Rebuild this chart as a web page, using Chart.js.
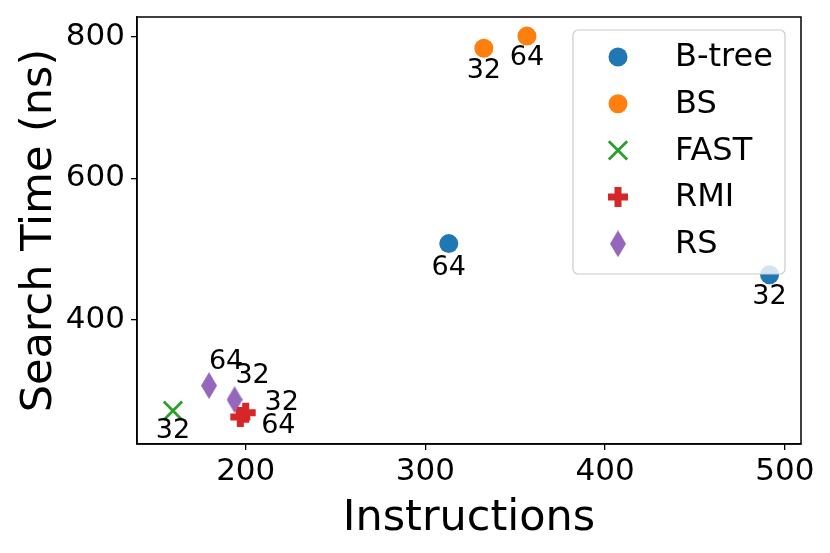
<!DOCTYPE html>
<html>
<head>
<meta charset="utf-8">
<script src="https://cdn.jsdelivr.net/npm/chart.js@4"></script>
<style>
  html, body { margin: 0; padding: 0; background: #fff; }
  canvas { display: block; }
</style>
</head>
<body>
<canvas id="c" width="830" height="553"></canvas>
<script>
// ---- Data ----
const seriesNames = ['B-tree', 'BS', 'FAST', 'RMI', 'RS'];
const btreeX = [491.5, 313];
const btreeY = [464, 508];
const btreeLabels = ['32', '64'];
const bsX = [332.5, 356.5];
const bsY = [784, 801];
const bsLabels = ['32', '64'];
const fastX = [159.5];
const fastY = [272];
const fastLabels = ['32'];
const rmiX = [200, 197];
const rmiY = [269, 263];
const rmiLabels = ['32', '64'];
const rsX = [193.8, 179.6];
const rsY = [287.5, 307.5];
const rsLabels = ['32', '64'];
const xTicks = [200, 300, 400, 500];
const yTicks = [400, 600, 800];

// ---- Styles ----
const FONT = "'DejaVu Sans', 'Liberation Sans', sans-serif";
const colors = ['#1f77b4', '#ff7f0e', '#2ca02c', '#d62728', '#9467bd'];
// label offsets (pixels) relative to each point
const labelOffsets = [
  [[0, 22], [0, 24]],
  [[0, 23], [0, 22]],
  [[0, 20]],
  [[36, -10], [38, 9]],
  [[18, -24], [17, -24]]
];

function makeDiamond(w, h, color) {
  const c = document.createElement('canvas');
  c.width = w; c.height = h;
  const g = c.getContext('2d');
  g.fillStyle = color;
  g.beginPath();
  g.moveTo(w / 2, 0); g.lineTo(w, h / 2); g.lineTo(w / 2, h); g.lineTo(0, h / 2);
  g.closePath(); g.fill();
  return c;
}
const diamond = makeDiamond(16, 27, colors[4]);

function pts(xs, ys) { return xs.map((x, i) => ({ x: x, y: ys[i] })); }
const allLabels = [btreeLabels, bsLabels, fastLabels, rmiLabels, rsLabels];

const markerStyles = [
  { pointStyle: 'circle', pointRadius: 9.5, backgroundColor: colors[0], borderColor: colors[0], borderWidth: 0 },
  { pointStyle: 'circle', pointRadius: 9.5, backgroundColor: colors[1], borderColor: colors[1], borderWidth: 0 },
  { pointStyle: 'crossRot', pointRadius: 13, backgroundColor: colors[2], borderColor: colors[2], borderWidth: 2.8 },
  { pointStyle: 'cross', pointRadius: 10, backgroundColor: colors[3], borderColor: colors[3], borderWidth: 7 },
  { pointStyle: diamond, pointRadius: 13, backgroundColor: colors[4], borderColor: colors[4], borderWidth: 0 }
];

const datasets = [
  pts(btreeX, btreeY), pts(bsX, bsY), pts(fastX, fastY), pts(rmiX, rmiY), pts(rsX, rsY)
].map((d, i) => Object.assign({ label: seriesNames[i], data: d, pointHoverRadius: markerStyles[i].pointRadius }, markerStyles[i]));

const framePlugin = {
  id: 'frame',
  afterDraw(chart) {
    const a = chart.chartArea, ctx = chart.ctx;
    ctx.save();
    ctx.strokeStyle = '#000';
    ctx.lineWidth = 1.5;
    ctx.strokeRect(a.left, a.top, a.right - a.left, a.bottom - a.top);
    ctx.restore();
  }
};

const annotPlugin = {
  id: 'annot',
  afterDatasetsDraw(chart) {
    const ctx = chart.ctx;
    ctx.save();
    ctx.fillStyle = '#000';
    ctx.font = '27px ' + FONT;
    ctx.textAlign = 'center';
    ctx.textBaseline = 'middle';
    chart.data.datasets.forEach((ds, di) => {
      const meta = chart.getDatasetMeta(di);
      meta.data.forEach((el, i) => {
        const off = labelOffsets[di][i];
        ctx.fillText(allLabels[di][i], el.x + off[0], el.y + off[1]);
      });
    });
    ctx.restore();
  }
};

const legendPlugin = {
  id: 'customLegend',
  afterDraw(chart) {
    const ctx = chart.ctx;
    const a = chart.chartArea;
    const bx = a.right - 228, by = a.top + 13, bw = 212, bh = 244, r = 5;
    ctx.save();
    ctx.beginPath();
    ctx.moveTo(bx + r, by);
    ctx.arcTo(bx + bw, by, bx + bw, by + bh, r);
    ctx.arcTo(bx + bw, by + bh, bx, by + bh, r);
    ctx.arcTo(bx, by + bh, bx, by, r);
    ctx.arcTo(bx, by, bx + bw, by, r);
    ctx.closePath();
    ctx.fillStyle = 'rgba(255,255,255,0.8)';
    ctx.fill();
    ctx.strokeStyle = '#cccccc';
    ctx.lineWidth = 1.2;
    ctx.stroke();
    ctx.font = '32px ' + FONT;
    ctx.textBaseline = 'middle';
    ctx.textAlign = 'left';
    chart.data.datasets.forEach((ds, i) => {
      const y = by + 27 + i * 46.7;
      const mx = bx + 45;
      ctx.fillStyle = ds.backgroundColor;
      ctx.strokeStyle = ds.borderColor;
      ctx.lineWidth = ds.borderWidth;
      Chart.helpers.drawPoint(ctx, { pointStyle: ds.pointStyle, radius: ds.pointRadius, borderWidth: ds.borderWidth, rotation: 0 }, mx, y);
      ctx.fillStyle = '#000';
      ctx.fillText(ds.label, bx + 102, y + 1);
    });
    ctx.restore();
  }
};

const axisCommon = {
  type: 'linear',
  grid: { display: true, drawOnChartArea: false, drawTicks: true, tickLength: 6, color: '#000', lineWidth: 1.3 },
  border: { display: true, color: '#000', width: 1.5 },
};

function noPad(s) { s.paddingTop = 0; s.paddingBottom = 0; s.paddingLeft = 0; s.paddingRight = 0; }

new Chart(document.getElementById('c'), {
  type: 'scatter',
  data: { datasets: datasets },
  options: {
    responsive: false,
    animation: false,
    layout: { padding: { top: 14, right: 29, left: 0, bottom: 0 } },
    plugins: { legend: { display: false }, tooltip: { enabled: false } },
    scales: {
      x: Object.assign({}, axisCommon, {
        min: 139.5, max: 509,
        afterBuildTicks: s => { s.ticks = xTicks.map(v => ({ value: v })); },
        afterFit: s => { s.height = 109; noPad(s); },
        ticks: { color: '#000', font: { size: 31, family: FONT }, padding: 3, maxRotation: 0, autoSkip: false },
        title: { display: true, text: 'Instructions', color: '#000', font: { size: 43, family: FONT }, padding: { top: 0, bottom: 8 } }
      }),
      y: Object.assign({}, axisCommon, {
        min: 225, max: 828,
        afterBuildTicks: s => { s.ticks = yTicks.map(v => ({ value: v })); },
        afterFit: s => { s.width = 137; noPad(s); },
        ticks: { color: '#000', font: { size: 31, family: FONT }, padding: 6, autoSkip: false },
        title: { display: true, text: 'Search Time (ns)', color: '#000', font: { size: 43, family: FONT }, padding: { top: 14, bottom: 0 } }
      })
    }
  },
  plugins: [framePlugin, annotPlugin, legendPlugin]
});
</script>
</body>
</html>
